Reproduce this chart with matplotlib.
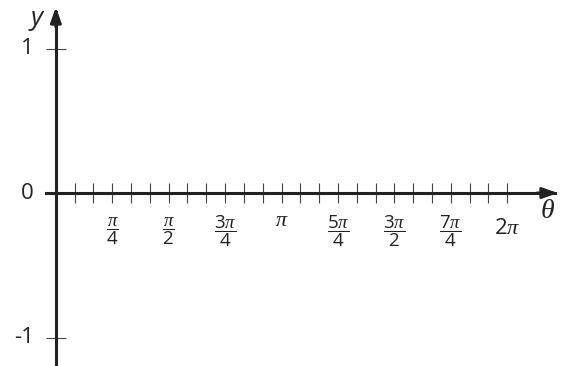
import numpy as np
import matplotlib.pyplot as plt

plt.rcParams['mathtext.fontset'] = 'custom'
plt.rcParams['mathtext.rm'] = 'Open Sans'
plt.rcParams['mathtext.it'] = 'Liberation Serif:italic'

# tick positions and labels
minor_ticks = [k * np.pi / 12 for k in range(1, 25)]
label_pos = [k * np.pi / 4 for k in range(1, 9)]
label_txt = [r'$\dfrac{\pi}{4}$', r'$\dfrac{\pi}{2}$', r'$\dfrac{3\pi}{4}$', r'$\pi$',
             r'$\dfrac{5\pi}{4}$', r'$\dfrac{3\pi}{2}$', r'$\dfrac{7\pi}{4}$', r'$2\pi$']
y_ticks = [1, 0, -1]
y_labels = ['1', '0', '-1']

fig = plt.figure(figsize=(5.64, 3.66), dpi=100)
ax = fig.add_axes([0, 0, 1, 1])
ax.set_xlim(-0.778, 7.075)
ax.set_ylim(-1.197, 1.336)

axis_col = '#222222'
for s in ['top', 'right']:
    ax.spines[s].set_visible(False)
ax.spines['left'].set_position(('data', 0))
ax.spines['bottom'].set_position(('data', 0))
ax.spines['left'].set_bounds(-1.2, 1.25)
ax.spines['bottom'].set_bounds(-0.14, 6.95)
for s in ['left', 'bottom']:
    ax.spines[s].set_linewidth(2.2)
    ax.spines[s].set_color(axis_col)

ax.set_xticks(minor_ticks)
ax.set_xticklabels([])
ax.set_yticks([1, -1])
ax.set_yticklabels([])
ax.tick_params(direction='inout', length=14, width=0.8, color='#444444')

# arrow heads
ax.annotate('', xy=(6.99, 0), xytext=(6.7, 0),
            arrowprops=dict(arrowstyle='-|>,head_length=0.9,head_width=0.32',
                            color=axis_col, lw=2.2, shrinkA=0, shrinkB=0))
ax.annotate('', xy=(0, 1.287), xytext=(0, 1.15),
            arrowprops=dict(arrowstyle='-|>,head_length=0.9,head_width=0.32',
                            color=axis_col, lw=2.2, shrinkA=0, shrinkB=0))

for x, t in zip(label_pos, label_txt):
    if 'dfrac' in t:
        ax.text(x, -0.265, t, ha='center', va='center', fontsize=13.5, color='#222222')
    elif t == r'$\pi$':
        ax.text(x, -0.185, t, ha='center', va='center', fontsize=16, color='#222222')
    else:
        ax.text(x, -0.24, t, ha='center', va='center', fontsize=16, color='#222222')

for v, t in zip(y_ticks, y_labels):
    ax.text(-0.31, v, t, ha='right', va='center', fontsize=16,
            family='Open Sans', color='#222222')

ax.text(-0.27, 1.21, 'y', ha='center', va='center', fontsize=19,
        family='Open Sans', style='italic', color='#222222')
ax.text(6.85, -0.12, r'$\theta$', ha='center', va='center', fontsize=20,
        color='#222222')

fig.savefig('out.png', dpi=100)
